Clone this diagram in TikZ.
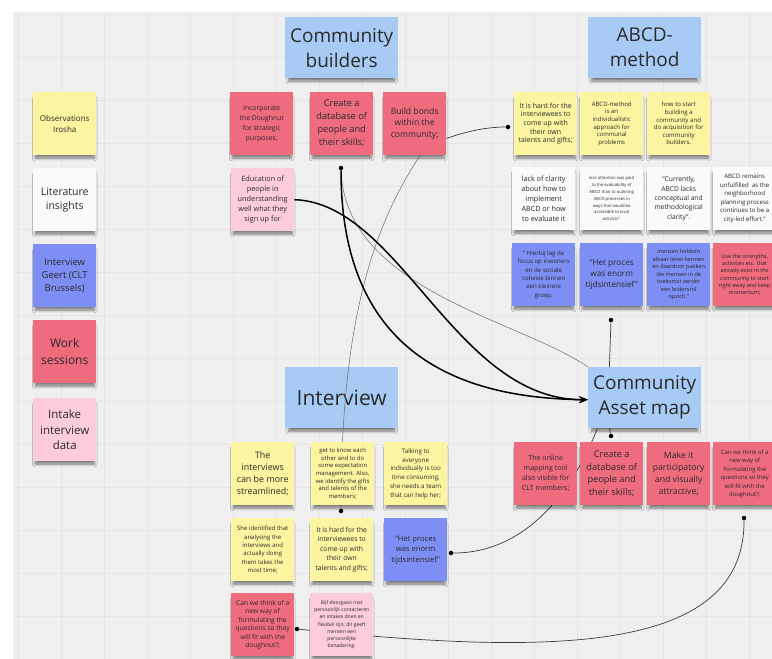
\documentclass[tikz,border=0pt]{standalone}
\usepackage{fontspec}
\setmainfont{Open Sans}
\usetikzlibrary{arrows.meta,shadows.blur}
\definecolor{bgc}{HTML}{EFEFEF}
\definecolor{gridc}{HTML}{E5E5E5}
\definecolor{yel}{HTML}{FBF4A0}
\definecolor{wht}{HTML}{FAFAFA}
\definecolor{blu}{HTML}{7D8EF4}
\definecolor{nred}{HTML}{EF6B7E}
\definecolor{pnk}{HTML}{FCCBDE}
\definecolor{hdr}{HTML}{A7CBF4}
\definecolor{ink}{HTML}{2A2A2A}
\definecolor{lnd}{HTML}{3A3A3A}
\definecolor{lnl}{HTML}{6A6A6A}
\newcommand\fsz[2]{\fontsize{#1}{#2}\selectfont}
\tikzset{
  shd/.style={blur shadow={shadow xshift=0pt, shadow yshift=-5pt, shadow scale=0.94, shadow blur radius=3pt, shadow opacity=50, shadow blur steps=6}},
  sn/.style={anchor=north west, minimum width=63pt, minimum height=63pt, inner sep=1pt, align=center, text=ink, shd},
  hd/.style={anchor=north west, minimum width=113pt, minimum height=61pt, inner sep=1pt, align=center, text=ink, fill=hdr, shd, font=\fsz{19}{25}},
  dotn/.style={circle, fill=black, inner sep=0pt, minimum size=4.5pt},
  condark/.style={draw=lnd, line width=0.7pt},
  conlight/.style={draw=lnl, line width=0.5pt},
  conbold/.style={draw=black, line width=1.5pt, -{Stealth[length=9pt,width=7pt]}},
}
\begin{document}
\begin{tikzpicture}[x=1pt,y=-1pt]
\useasboundingbox (0,0) rectangle (772,659);
\clip (0,0) rectangle (772,659);
\fill[white] (0,0) rectangle (772,659);
\fill[bgc] (13,12) rectangle (772,659);
\foreach \gx in {18,61,...,772} {\draw[gridc,line width=0.5pt] (\gx,12) -- (\gx,659);}
\foreach \gy in {14,57,...,659} {\draw[gridc,line width=0.5pt] (13,\gy) -- (772,\gy);}

% headers
\node[hd] (cb) at (285,17) {Community\\builders};
\node[hd] (abcd) at (588,17) {ABCD-\\method};
\node[hd,font=\fsz{21}{26}] (iv) at (285,367) {Interview};
\node[hd] (cam) at (588,367) {Community\\Asset map};

\node[sn,fill=nred,font=\fsz{8.6}{11.7}] (bb) at (383,92) {Build bonds\\within the\\community;};

% dots
\node[dotn] (d1) at (508,127) {};
\node[dotn] (d2) at (341,511) {};
\node[dotn] (d3) at (341,168) {};
\node[dotn] (d4) at (611,320) {};
\node[dotn] (d5) at (611,436) {};
\node[dotn] (d6) at (451,553) {};
\node[dotn] (d7) at (297,629) {};
\node[dotn] (d8) at (744,518) {};

% connectors behind notes
\draw[conlight] (bb.-80) .. controls (370,230) and (341,330) .. (d2);
\draw[condark] (d7) .. controls (550,655) and (745,655) .. (d8);
\draw[condark] (cam.-147) .. controls (575,485) and (530,553) .. (d6);

% legend
\node[sn,fill=yel,font=\fsz{8}{11}] (obs) at (33,92) {Observations\\Irosha};
\node[sn,fill=wht,font=\fsz{10.5}{14.5}] (lit) at (33,168) {Literature\\insights};
\node[sn,fill=blu,font=\fsz{9.5}{13.3}] (geert) at (33,244) {Interview\\Geert (CLT\\Brussels)};
\node[sn,fill=nred,font=\fsz{12}{17}] (work) at (33,320) {Work\\sessions};
\node[sn,fill=pnk,font=\fsz{11.5}{15.5}] (intake) at (33,398) {Intake\\interview\\data};

% community builders
\node[sn,fill=nred,font=\fsz{6.8}{9.8}] (inc) at (230,92) {Incorporate\\the Doughnut\\for strategic\\purposes;};
\node[sn,fill=nred,font=\fsz{9.2}{13}] (cdb) at (310,92) {Create a\\database of\\people and\\their skills;};
\node[sn,fill=pnk,font=\fsz{7.3}{10}] (edu) at (231,168) {Education of\\people in\\understanding\\well what they\\sign up for};

% ABCD
\node[sn,fill=yel,font=\fsz{7}{8.6}] (ih1) at (514,92) {It is hard for the\\interviewees to\\come up with\\their own\\talents and gifts;};
\node[sn,fill=yel,font=\fsz{6}{7.6}] (indiv) at (580,92) {ABCD-method\\is an\\individualistic\\approach for\\communal\\problems};
\node[sn,fill=yel,font=\fsz{6.1}{7.6}] (howto) at (647,92) {how to start\\building a\\community and\\do acquisition for\\community\\builders.};
\node[sn,fill=wht,font=\fsz{7.2}{10}] (lack) at (512,167) {lack of clarity\\about how to\\implement\\ABCD or how\\to evaluate it};
\node[sn,fill=wht,font=\fsz{4.2}{6.8}] (less) at (580,167) {less attention was paid\\to the evaluability of\\ABCD than to outlining\\ABCD processes in\\ways that would be\\accessible to local\\activists”.};
\node[sn,fill=wht,font=\fsz{6.7}{9.3}] (curr) at (647,167) {“Currently,\\ABCD lacks\\conceptual and\\methodological\\clarity”.};
\node[sn,fill=wht,font=\fsz{6.1}{8.5}] (remain) at (713,167) {ABCD remains\\unfulfilled\ \ as the\\neighborhood\\planning process\\continues to be a\\city-led effort.”};
\node[sn,fill=blu,font=\fsz{6.1}{8.4}] (hier) at (512,243) {“ Hierbij lag de\\focus op inwoners\\en de sociale\\cohesie binnen\\een kleinere\\groep.};
\node[sn,fill=blu,font=\fsz{8.2}{11}] (hp1) at (580,243) {“Het proces\\was enorm\\tijdsintensief”};
\node[sn,fill=blu,font=\fsz{5.6}{7.5}] (mensen) at (647,243) {mensen hebben\\elkaar leren kennen\\en daardoor pakken\\die mensen in de\\toekomst eerder\\een leidersrol\\opzich.”};
\node[sn,fill=nred,font=\fsz{5.5}{7.3}] (use) at (713,243) {Use the strengths,\\activities etc. that\\already exist in the\\community to start\\right away and keep\\momentum;};

% Interview
\node[sn,fill=yel,font=\fsz{8.9}{12}] (stream) at (231,442) {The\\interviews\\can be more\\streamlined;};
\node[sn,fill=yel,font=\fsz{5.9}{7.7}] (getknow) at (311,442) {get to know each\\other and to do\\some expectation\\management. Also,\\we identify the gifts\\and talents of the\\members;};
\node[sn,fill=yel,font=\fsz{6.2}{8.8}] (talking) at (384,442) {Talking to\\everyone\\individually is too\\time consuming,\\she needs a team\\that can help her;};
\node[sn,fill=yel,font=\fsz{6}{8.3}] (sheid) at (231,518) {She identified that\\analysing the\\interviews and\\actually doing\\them takes the\\most time;};
\node[sn,fill=yel,font=\fsz{6.8}{9.5}] (ih2) at (310,518) {It is hard for the\\interviewees to\\come up with\\their own\\talents and gifts;};
\node[sn,fill=blu,font=\fsz{7.6}{10.5}] (hp2) at (384,518) {“Het proces\\was enorm\\tijdsintensief”};
\node[sn,fill=nred,font=\fsz{6.6}{8.5}] (cwt1) at (231,593) {Can we think of a\\new way of\\formulating the\\questions so they\\will fit with the\\doughnut?;};
\node[sn,fill=pnk,font=\fsz{5}{7.1}] (bijf) at (310,593) {Bijf doorgaan met\\persoonlijk contacteren\\en intakes doen en\\flexibel zijn; dit geeft\\mensen een\\persoonlijke\\benadering.};

% Asset map
\node[sn,fill=nred,font=\fsz{7.1}{10}] (online) at (514,442) {The online\\mapping tool\\also visible for\\CLT members;};
\node[sn,fill=nred,font=\fsz{9.2}{12.8}] (cdb2) at (580,442) {Create a\\database of\\people and\\their skills;};
\node[sn,fill=nred,font=\fsz{8.7}{12}] (make) at (647,442) {Make it\\participatory\\and visually\\attractive;};
\node[sn,fill=nred,font=\fsz{5.9}{8.5}] (cwt2) at (713,442) {Can we think of a\\new way of\\formulating the\\questions so they\\will fit with the\\doughnut?;};

% connectors on top
\draw[condark] (bb.-25) .. controls (470,130) and (490,127) .. (d1);
\draw[conlight] (d3) .. controls (345,290) and (520,320) .. (cam.north west);
\draw[conbold] (d3) .. controls (341,330) and (430,398) .. ([yshift=-2pt]cam.west);
\draw[conbold] (edu.east) .. controls (400,203) and (455,400) .. ([yshift=-2pt]cam.west);
\draw[condark] (d4) -- (cam.139);
\draw[condark] (cam.221) -- (d5);
\end{tikzpicture}
\end{document}
